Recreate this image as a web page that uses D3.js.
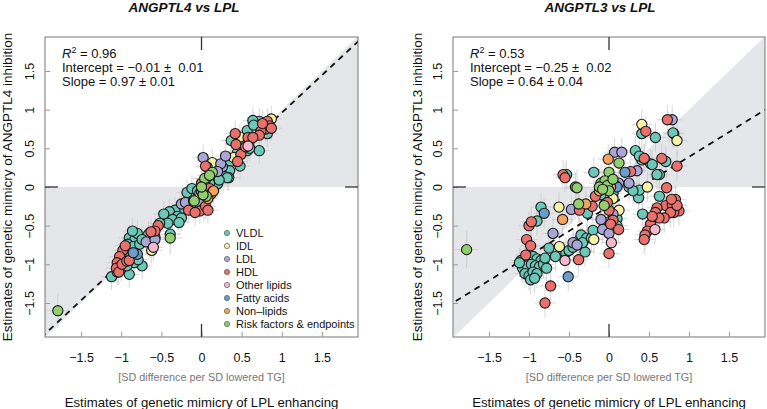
<!DOCTYPE html>
<html><head><meta charset="utf-8">
<script src="https://cdn.jsdelivr.net/npm/d3@7"></script>
<style>
html,body{margin:0;padding:0;background:#fff;}
svg{display:block;}
text{font-family:"Liberation Sans",Arial,Helvetica,sans-serif;}
</style></head>
<body><svg id="c" width="767" height="409"></svg>
<script>
// ---------- DATA ----------
const categories = ["VLDL","IDL","LDL","HDL","Other lipids","Fatty acids","Non\u2013lipids","Risk factors & endpoints"];
const categoryColors = ["#6cc8b8","#f6f2a6","#aaa6d8","#ea716b","#f5b8cc","#6a9dc8","#f2a35e","#92ce6e"];
const xTicks = [-1.5,-1,-0.5,0,0.5,1,1.5];
const yTicks = [-1.5,-1,-0.5,0,0.5,1,1.5];

// Panel 1: ANGPTL4 vs LPL  [x, y]
const a4_VLDL = [[0.82,0.69],[0.72,0.85],[0.64,0.86],[0.73,0.77],[0.57,0.73],[0.65,0.80],[0.40,0.60],[0.37,0.60],[0.53,0.59],[0.59,0.57],[0.57,0.47],[0.72,0.47],[0.60,0.50],[0.30,0.27],[0.36,0.33],[0.48,0.27],[0.35,0.21],[0.34,0.12],[0.28,0.14],[0.18,0.05],[0.20,0.04],[0.32,0.12],[0.22,0.09],[-0.18,-0.07],[-0.12,-0.02],[-0.27,-0.29],[-0.33,-0.30],[-0.40,-0.32],[-0.30,-0.38],[-0.36,-0.42],[-0.25,-0.40],[-0.28,-0.46],[-0.47,-0.35],[-0.39,-0.61],[-0.42,-0.47],[-0.52,-0.47],[-0.66,-0.61],[-0.90,-0.66],[-0.83,-0.68],[-0.92,-0.74],[-0.85,-0.77],[-0.77,-0.74],[-0.80,-0.60],[-0.86,-0.57],[-0.74,-0.68],[-0.95,-0.84],[-1.12,-1.16],[-0.90,-1.13],[-0.74,-1.02],[-0.84,-0.98],[-0.79,-0.94],[-1.00,-1.05],[-1.05,-1.10],[-0.93,-1.02],[0.10,0.05],[0.02,-0.02],[-0.05,-0.05],[0.05,0.09],[0.45,0.45]];
const a4_IDL = [[0.87,0.88],[0.48,0.645],[0.42,0.38],[0.135,0.315],[0.40,0.38],[-0.62,-0.82],[0.05,0.0]];
const a4_LDL = [[0.02,0.38],[0.26,0.26],[0.24,0.30],[0.20,0.20],[-0.02,-0.22],[0.07,-0.05],[-0.58,-0.65],[-0.69,-0.71],[-0.58,-0.68],[-0.25,-0.22],[-0.20,-0.20],[0.30,0.40]];
const a4_HDL = [[0.82,0.85],[0.85,0.79],[0.80,0.75],[0.87,0.76],[0.74,0.72],[0.72,0.67],[0.58,0.64],[0.64,0.64],[0.76,0.82],[0.43,0.55],[0.49,0.42],[0.45,0.33],[0.07,0.26],[0.05,0.27],[0.42,0.69],[0.55,0.52],[0.03,-0.28],[-0.02,-0.31],[0.05,-0.25],[0.08,-0.30],[-0.16,-0.30],[-0.08,-0.33],[-0.54,-0.50],[-0.58,-0.57],[-0.63,-0.58],[-0.98,-0.82],[-1.02,-0.90],[-1.05,-0.98],[-1.06,-1.05],[-1.03,-1.10],[-0.99,-1.00],[-0.93,-0.96],[-0.90,-0.95],[-0.95,-0.76],[0.10,-0.02],[0.00,0.05]];
const a4_Other = [[0.58,0.53],[-0.02,-0.08],[-0.60,-0.78]];
const a4_FA = [[-0.80,-0.87],[-0.85,-0.85],[0.00,-0.06]];
const a4_NonLipid = [[0.12,-0.09],[0.08,-0.15],[0.15,-0.05]];
const a4_Risk = [[-1.79,-1.60],[0.135,0.19],[0.04,0.11],[0.06,-0.12],[0.02,-0.10],[-0.10,-0.18],[-0.39,-0.66],[-0.09,-0.18],[0.10,0.15],[0.00,0.00]];

// Panel 2: ANGPTL3 vs LPL  [x, y]
const a3_VLDL = [[0.41,0.69],[0.58,0.64],[0.81,0.69],[0.80,0.70],[0.33,0.47],[0.44,0.37],[0.52,0.30],[0.63,0.16],[0.60,0.16],[0.54,0.29],[0.71,0.33],[0.41,0.35],[0.38,0.40],[-0.19,0.19],[-0.53,0.16],[-0.42,0.00],[0.37,-0.14],[0.38,-0.04],[0.63,-0.12],[0.42,-0.35],[0.25,0.00],[0.30,-0.05],[0.10,-0.41],[-0.27,-0.34],[-0.10,-0.10],[-0.05,-0.22],[0.05,-0.08],[-0.85,-0.26],[-0.90,-0.44],[-0.75,-0.79],[-0.67,-0.90],[-0.54,-0.85],[-0.50,-0.82],[-0.45,-0.78],[-0.39,-0.70],[-0.30,-0.84],[-0.35,-0.62],[-0.28,-0.66],[-0.33,-0.72],[-0.22,-0.66],[-0.20,-0.56],[0.10,-0.50],[-1.10,-0.95],[-1.05,-0.95],[-1.00,-0.92],[-0.95,-0.90],[-0.90,-0.93],[-0.85,-0.95],[-1.08,-1.05],[-1.02,-1.02],[-0.97,-1.00],[-0.92,-1.02],[-0.87,-1.03],[-0.82,-1.00],[-1.05,-1.12],[-1.00,-1.15],[-0.95,-1.10],[-0.90,-1.12],[-0.98,-1.20],[-0.93,-1.18],[-1.12,-0.98],[-0.80,-0.92],[-0.78,-1.05]];
const a3_IDL = [[0.41,0.81],[0.85,0.60],[0.48,0.00],[-0.625,-0.26],[-0.62,-0.77],[-0.19,-0.68],[0.125,-0.30],[0.05,-0.15]];
const a3_LDL = [[0.79,0.87],[0.07,0.45],[0.16,0.45],[0.35,0.21],[0.25,0.05],[-0.47,-0.29],[-0.70,-0.60],[-0.05,-0.48],[0.00,-0.45],[-0.08,-0.55],[0.05,-0.35],[-0.10,-0.42],[-0.45,-0.72],[-0.40,-0.75],[0.12,0.05],[0.08,0.02],[0.00,-0.60]];
const a3_HDL = [[0.73,0.87],[0.46,0.72],[0.27,0.20],[0.66,0.37],[0.85,0.27],[0.44,0.37],[-0.575,0.16],[-0.55,0.12],[0.72,-0.01],[0.83,-0.16],[0.71,-0.24],[0.79,-0.23],[0.875,-0.31],[0.81,-0.33],[0.77,-0.33],[0.69,-0.40],[0.60,-0.27],[0.58,-0.33],[0.625,-0.40],[0.52,-0.48],[0.48,-0.57],[0.45,-0.62],[0.44,-0.68],[0.54,-0.38],[0.85,-0.24],[0.78,-0.16],[-0.37,-0.30],[-0.21,-0.25],[-0.17,-0.12],[0.00,-0.30],[0.05,-0.43],[0.02,-0.48],[0.00,-0.86],[-0.38,-0.94],[-0.73,-1.28],[-0.80,-1.50],[-1.00,-0.50],[-0.97,-0.45],[-1.03,-0.68],[-0.98,-0.76],[-1.04,-0.88],[0.12,-0.55],[-0.02,-0.20]];
const a3_Other = [[0.575,-0.55],[0.03,-0.72],[-0.55,-0.95]];
const a3_FA = [[0.20,0.19],[-0.81,-0.34],[-0.51,-1.16],[0.10,0.00]];
const a3_NonLipid = [[-0.01,0.36],[-0.58,-0.42],[-0.29,-0.22],[0.02,0.00],[-0.12,-0.05]];
const a3_Risk = [[-1.78,-0.81],[0.125,0.31],[0.00,0.19],[-0.40,-0.01],[-0.10,0.05],[-0.05,0.08],[-0.12,0.00],[-0.02,0.02],[0.00,-0.05],[-0.08,-0.03],[-0.38,-0.22],[0.05,0.10],[-0.06,-0.24]];

// typical 95% CI half-widths per category [x, y]
const a4_ci = [[0.13,0.17],[0.13,0.17],[0.13,0.17],[0.13,0.17],[0.13,0.17],[0.13,0.17],[0.13,0.17],[0.15,0.22]];
const a3_ci = [[0.13,0.19],[0.13,0.19],[0.13,0.19],[0.13,0.19],[0.13,0.19],[0.13,0.19],[0.13,0.19],[0.15,0.24]];

const fits = [
  {title:"ANGPTL4 vs LPL", r2:"0.96", intercept:"\u22120.01 \u00b1  0.01", slope:"0.97 \u00b1 0.01", a:-0.01, b:0.97, gene:"ANGPTL4"},
  {title:"ANGPTL3 vs LPL", r2:"0.53", intercept:"\u22120.25 \u00b1  0.02", slope:"0.64 \u00b1 0.04", a:-0.25, b:0.64, gene:"ANGPTL3"}
];
const panelSeries = [
  [a4_VLDL,a4_IDL,a4_LDL,a4_HDL,a4_Other,a4_FA,a4_NonLipid,a4_Risk],
  [a3_VLDL,a3_IDL,a3_LDL,a3_HDL,a3_Other,a3_FA,a3_NonLipid,a3_Risk]
];
const panelCI = [a4_ci, a3_ci];

// ---------- LAYOUT ----------
const svg = d3.select("#c");
const boxes = [{x0:45,x1:358,y0:37,y1:337,titleX:184,ylabX:12},{x0:453,x1:765,y0:37,y1:337,titleX:600,ylabX:422}];
const dom = [-1.95,1.95];
const minus = s => s.replace("-","\u2212");

fits.forEach((f,pi)=>{
  const B = boxes[pi];
  const x = d3.scaleLinear().domain(dom).range([B.x0,B.x1]);
  const y = d3.scaleLinear().domain([-1.94,1.94]).range([B.y1,B.y0]);
  const g = svg.append("g");
  const clipId = "clip"+pi;
  svg.append("clipPath").attr("id",clipId).append("rect")
    .attr("x",B.x0).attr("y",B.y0).attr("width",B.x1-B.x0).attr("height",B.y1-B.y0);
  const pg = g.append("g").attr("clip-path",`url(#${clipId})`);

  // shaded region between y=0 and y=x
  const e = 2.5;
  pg.append("path").attr("fill","#e5e6ea")
    .attr("d", d3.line()([[x(0),y(0)],[x(e),y(e)],[x(e),y(0)]]) + "Z" +
               d3.line()([[x(0),y(0)],[x(-e),y(-e)],[x(-e),y(0)]]) + "Z");

  // error bars
  const series = panelSeries[pi];
  const ci = panelCI[pi];
  const eb = pg.append("g").attr("stroke","#c9c9c9").attr("stroke-width",0.9).attr("stroke-opacity",0.85);
  series.forEach((pts,ci_i)=>{
    const [hx,hy] = ci[ci_i];
    pts.forEach(p=>{
      eb.append("line").attr("x1",x(p[0]-hx)).attr("x2",x(p[0]+hx)).attr("y1",y(p[1])).attr("y2",y(p[1]));
      eb.append("line").attr("x1",x(p[0])).attr("x2",x(p[0])).attr("y1",y(p[1]-hy)).attr("y2",y(p[1]+hy));
    });
  });

  // regression dashed line
  pg.append("line").attr("x1",x(-e)).attr("y1",y(f.a+f.b*-e)).attr("x2",x(e)).attr("y2",y(f.a+f.b*e))
    .attr("stroke","#111").attr("stroke-width",1.8).attr("stroke-dasharray","6,5");

  // points
  series.forEach((pts,ci_i)=>{
    pg.selectAll(null).data(pts).enter().append("circle")
      .attr("cx",d=>x(d[0])).attr("cy",d=>y(d[1])).attr("r",5.1)
      .attr("fill",categoryColors[ci_i]).attr("stroke","#1a1a1a").attr("stroke-width",1.1);
  });

  // box
  g.append("rect").attr("x",B.x0).attr("y",B.y0).attr("width",B.x1-B.x0).attr("height",B.y1-B.y0)
    .attr("fill","none").attr("stroke","#777").attr("stroke-width",1);

  // axes
  const ax = d3.axisBottom(x).tickValues(xTicks).tickSize(-5).tickPadding(16)
    .tickFormat(d=>minus(d3.format("")(d)));
  const gx = g.append("g").attr("transform",`translate(0,${B.y1})`).call(ax);
  gx.select(".domain").remove();
  gx.selectAll(".tick line").attr("stroke","#999");
  gx.selectAll("text").attr("font-size",12.5).attr("fill","#111").attr("font-family","Liberation Sans, Arial, sans-serif");

  const ay = d3.axisLeft(y).tickValues(yTicks).tickSize(-5)
    .tickFormat(d=>minus(d3.format("")(d)));
  const gy = g.append("g").attr("transform",`translate(${B.x0},0)`).call(ay);
  gy.select(".domain").remove();
  gy.selectAll(".tick line").attr("stroke","#999");
  gy.selectAll("text").attr("font-size",12.5).attr("fill","#111").attr("font-family","Liberation Sans, Arial, sans-serif")
    .attr("transform","rotate(-90)").attr("x",0).attr("y",-11).attr("dy",null).attr("text-anchor","middle");

  // long zero ticks
  const zc = "#333";
  g.append("line").attr("x1",x(0)).attr("x2",x(0)).attr("y1",B.y0).attr("y2",B.y0+13).attr("stroke",zc).attr("stroke-width",1.3);
  g.append("line").attr("x1",x(0)).attr("x2",x(0)).attr("y1",B.y1).attr("y2",B.y1-13).attr("stroke",zc).attr("stroke-width",1.3);
  g.append("line").attr("y1",y(0)).attr("y2",y(0)).attr("x1",B.x0).attr("x2",B.x0+13).attr("stroke",zc).attr("stroke-width",1.3);
  g.append("line").attr("y1",y(0)).attr("y2",y(0)).attr("x1",B.x1).attr("x2",B.x1-13).attr("stroke",zc).attr("stroke-width",1.3);

  // title
  g.append("text").attr("x",B.titleX).attr("y",12).attr("text-anchor","middle")
    .attr("font-family","Open Sans, Lato, sans-serif").attr("font-weight",800).attr("font-style","italic")
    .attr("font-size",13.5).attr("fill","#111").text(f.title);

  // annotation
  const tx = B.x0+17;
  const t1 = g.append("text").attr("x",tx).attr("y",58).attr("font-size",13).attr("fill","#111");
  t1.append("tspan").attr("font-style","italic").text("R");
  t1.append("tspan").attr("font-size",9).attr("dy",-5).text("2");
  t1.append("tspan").attr("dy",5).text(" = "+f.r2);
  g.append("text").attr("x",tx).attr("y",72).attr("font-size",13).attr("fill","#111").attr("xml:space","preserve")
    .style("white-space","pre").text("Intercept = "+f.intercept);
  g.append("text").attr("x",tx).attr("y",86).attr("font-size",13).attr("fill","#111").text("Slope = "+f.slope);

  // axis labels
  const cx = (B.x0+B.x1)/2;
  g.append("text").attr("x",cx).attr("y",381).attr("text-anchor","middle").attr("font-size",10.8).attr("fill","#777")
    .text("[SD difference per SD lowered TG]");
  g.append("text").attr("x",cx).attr("y",407).attr("text-anchor","middle").attr("font-size",13.2).attr("fill","#111")
    .text("Estimates of genetic mimicry of LPL enhancing");
  g.append("text").attr("transform",`translate(${B.ylabX},${(B.y0+B.y1)/2}) rotate(-90)`).attr("text-anchor","middle")
    .attr("font-size",13.5).attr("fill","#111")
    .text("Estimates of genetic mimicry of "+f.gene+" inhibition");

  // legend (left panel only)
  if(pi===0){
    const lg = g.append("g");
    categories.forEach((c,i)=>{
      const yy = 233 + i*13;
      lg.append("circle").attr("cx",227).attr("cy",yy).attr("r",2.6).attr("fill",categoryColors[i]).attr("stroke","#555").attr("stroke-width",0.7);
      lg.append("text").attr("x",236).attr("y",yy+4).attr("font-size",11).attr("fill","#111").text(c);
    });
  }
});
</script></body></html>
